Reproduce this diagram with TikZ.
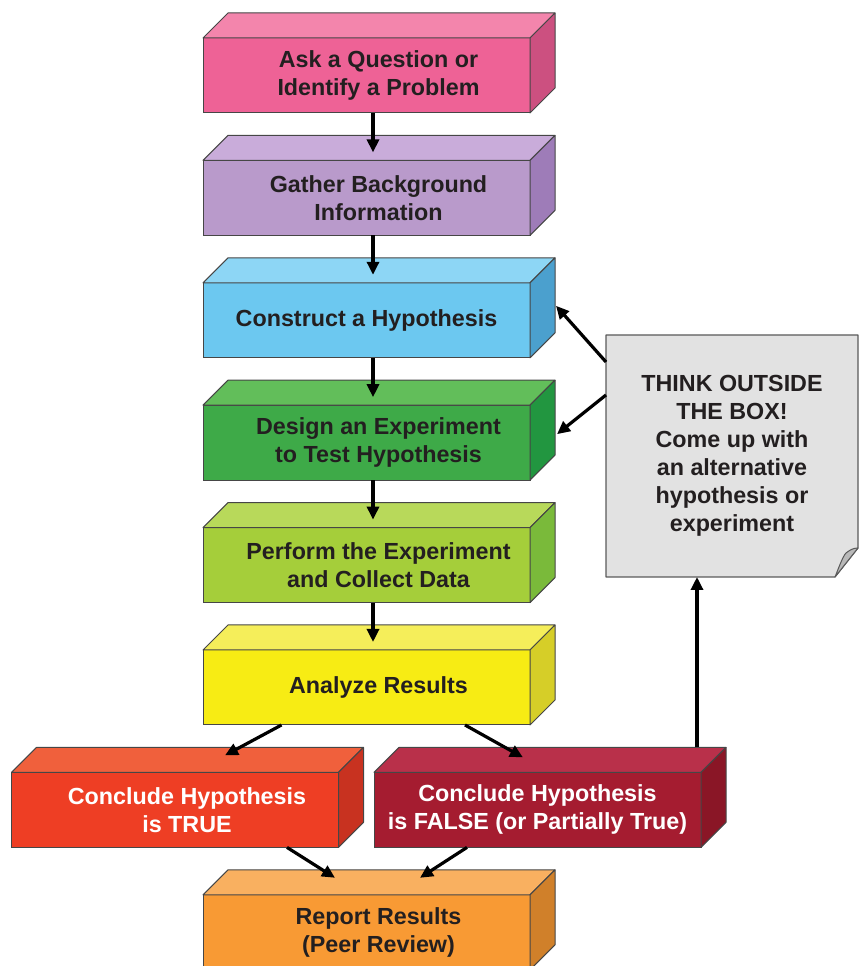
\documentclass[tikz,border=0pt]{standalone}
\usepackage{fontspec}
\setmainfont{Liberation Sans}
\usetikzlibrary{arrows.meta, positioning, calc, backgrounds}

\definecolor{ink}{RGB}{35,31,32}
\definecolor{edge}{RGB}{70,70,70}
\definecolor{pinkF}{RGB}{238,98,150}   \definecolor{pinkT}{RGB}{243,133,172}  \definecolor{pinkS}{RGB}{204,80,128}
\definecolor{lilacF}{RGB}{185,154,203} \definecolor{lilacT}{RGB}{201,172,218} \definecolor{lilacS}{RGB}{158,124,184}
\definecolor{skyF}{RGB}{108,200,240}   \definecolor{skyT}{RGB}{141,214,245}   \definecolor{skyS}{RGB}{75,160,206}
\definecolor{leafF}{RGB}{62,170,72}    \definecolor{leafT}{RGB}{98,190,90}    \definecolor{leafS}{RGB}{34,150,64}
\definecolor{limeF}{RGB}{165,206,58}   \definecolor{limeT}{RGB}{184,217,90}   \definecolor{limeS}{RGB}{122,186,58}
\definecolor{sunF}{RGB}{247,236,20}    \definecolor{sunT}{RGB}{245,238,90}    \definecolor{sunS}{RGB}{214,206,40}
\definecolor{fireF}{RGB}{238,62,36}    \definecolor{fireT}{RGB}{240,96,60}    \definecolor{fireS}{RGB}{200,50,32}
\definecolor{wineF}{RGB}{165,28,48}    \definecolor{wineT}{RGB}{185,48,74}    \definecolor{wineS}{RGB}{138,22,38}
\definecolor{amberF}{RGB}{248,154,52}  \definecolor{amberT}{RGB}{249,176,96}  \definecolor{amberS}{RGB}{208,128,42}
\definecolor{noteF}{RGB}{226,226,226}  \definecolor{noteE}{RGB}{90,90,90}

% top and right faces of a box node
\newcommand{\cubefaces}[3]{%
  \filldraw[fill=#2, draw=edge, line width=1pt, line join=round] (#1.north west) -- ++(25,25) -- ($(#1.north east)+(25,25)$) -- (#1.north east) -- cycle;
  \filldraw[fill=#3, draw=edge, line width=1pt, line join=round] (#1.north east) -- ++(25,25) -- ($(#1.south east)+(25,25)$) -- (#1.south east) -- cycle;
}
% pushes a line of box text a little to the right
\newcommand{\pad}{\hspace*{24pt}}

\begin{document}
\begin{tikzpicture}[x=1pt, y=1pt, >={Triangle[length=13pt,width=12pt]}, line width=3.2pt,
  stepbox/.style={draw=edge, line width=1pt, rectangle, minimum width=327pt, minimum height=75pt, inner sep=0pt, outer sep=0pt, align=center, text=ink, font=\bfseries\fontsize{23.3}{28}\selectfont},
  notebox/.style={rectangle, minimum width=252pt, minimum height=242pt, inner sep=0pt, outer sep=0pt, align=center, text=ink, font=\bfseries\fontsize{23.3}{28}\selectfont}]

		\useasboundingbox (0,0) rectangle (859,966);
		\clip (0,0) rectangle (859,966);

		% Main column
		\node[stepbox, fill=pinkF] (ask) at (366.5,890.5) {\pad Ask a Question or\\\pad Identify a Problem};
		\node[stepbox, fill=lilacF, below=47.4pt of ask] (gather) {\pad Gather Background\\\pad Information};
		\node[stepbox, fill=skyF, below=47.4pt of gather] (hypo) {Construct a Hypothesis};
		\node[stepbox, fill=leafF, below=47.4pt of hypo] (design) {\pad Design an Experiment\\\pad to Test Hypothesis};
		\node[stepbox, fill=limeF, below=47.4pt of design] (perform) {\pad Perform the Experiment\\\pad and Collect Data};
		\node[stepbox, fill=sunF, below=47.4pt of perform] (analyze) {\pad Analyze Results};

		% Two conclusions
		\node[stepbox, fill=fireF, text=white, below=47.4pt of analyze, xshift=-191.5pt] (true) {\pad Conclude Hypothesis\\\pad is TRUE};
		\node[stepbox, fill=wineF, text=white, below=47.4pt of analyze, xshift=171pt] (false) {Conclude Hypothesis\\is FALSE (or Partially True)};

		% Report
		\node[stepbox, fill=amberF, below=47.4pt of true, xshift=191.5pt] (report) {\pad Report Results\\\pad (Peer Review)};

		% Note on the right
		\node[notebox] (note) at (732,510) {THINK OUTSIDE\\THE BOX!\\Come up with\\an alternative\\hypothesis or\\experiment};
		\begin{scope}[on background layer]
			\filldraw[fill=noteF, draw=noteE, line width=1.2pt, line join=round] (note.north west) -- (note.north east) -- ([yshift=29pt]note.south east) -- ([xshift=-23pt]note.south east) -- (note.south west) -- cycle;
		\end{scope}
		\filldraw[fill=gray!55, draw=noteE, line width=1pt, line join=round] ([xshift=-23pt]note.south east) .. controls +(4,10) and +(-3,-3) .. ([xshift=-12pt,yshift=24pt]note.south east) .. controls +(4,3) and +(-5,0) .. ([yshift=29pt]note.south east) -- cycle;

		% Box faces
		\cubefaces{ask}{pinkT}{pinkS}
		\cubefaces{gather}{lilacT}{lilacS}
		\cubefaces{hypo}{skyT}{skyS}
		\cubefaces{design}{leafT}{leafS}
		\cubefaces{perform}{limeT}{limeS}
		\cubefaces{analyze}{sunT}{sunS}
		\cubefaces{true}{fireT}{fireS}
		\cubefaces{false}{wineT}{wineS}
		\cubefaces{report}{amberT}{amberS}

		% Connections
		\draw[->] ([xshift=6.5pt]ask.south) -- ([xshift=6.5pt,yshift=8pt]gather.north);
		\draw[->] ([xshift=6.5pt]gather.south) -- ([xshift=6.5pt,yshift=8pt]hypo.north);
		\draw[->] ([xshift=6.5pt]hypo.south) -- ([xshift=6.5pt,yshift=8pt]design.north);
		\draw[->] ([xshift=6.5pt]design.south) -- ([xshift=6.5pt,yshift=8pt]perform.north);
		\draw[->] ([xshift=6.5pt]perform.south) -- ([xshift=6.5pt,yshift=8pt]analyze.north);
		\draw[->] ([xshift=-85pt]analyze.south) -- ([xshift=50pt,yshift=17pt]true.north);
		\draw[->] ([xshift=98.5pt]analyze.south) -- ([xshift=-14.5pt,yshift=15pt]false.north);
		\draw[->] ([xshift=112pt]true.south) -- ([xshift=-31.5pt,yshift=17pt]report.north);
		\draw[->] ([xshift=-70.5pt]false.south) -- ([xshift=53.5pt,yshift=17pt]report.north);
		\draw[->] ([xshift=159.5pt,yshift=25pt]false.north) -- ([xshift=-35pt]note.south);
		\draw[->] ([yshift=94pt]note.west) -- ([xshift=26pt,yshift=14.5pt]hypo.east);
		\draw[->] ([yshift=61pt]note.west) -- ([xshift=27pt,yshift=8.5pt]design.east);

\end{tikzpicture}
\end{document}
